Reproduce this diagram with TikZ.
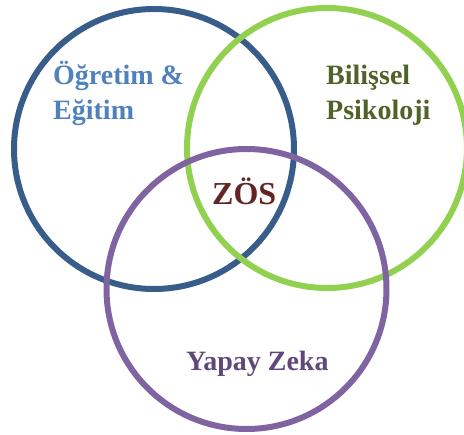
\documentclass[tikz,border=0pt]{standalone}
\usepackage{fontspec}
\setmainfont{Liberation Serif}
\definecolor{ringBlue}{HTML}{385D8A}
\definecolor{ringGreen}{HTML}{92D050}
\definecolor{ringPurple}{HTML}{8064A2}
\definecolor{txtBlue}{HTML}{4F81BD}
\definecolor{txtOlive}{HTML}{4F6228}
\definecolor{txtRed}{HTML}{632523}
\definecolor{txtPurple}{HTML}{5F497A}
\tikzset{
  ring/.style={line width=6pt},
  label/.style={inner sep=0pt, anchor=base west, font=\bfseries\fontsize{28}{35}\selectfont, align=left},
}
\begin{document}
\begin{tikzpicture}[x=1pt,y=-1pt]
\useasboundingbox (0,0) rectangle (464,435);
% the three overlapping fields
\draw[ring, ringBlue]   (154,149) circle (140pt);
\draw[ring, ringGreen]  (327,148) circle (140pt);
\draw[ring, ringPurple] (246.5,289) circle (140pt);
% field names (base anchor sits on the last line)
\node[label, text=txtBlue] (egitim) at (53,120) {Öğretim \&\\Eğitim};
\node[label, text=txtOlive] (psiko) at (326,120) {Bilişsel\\Psikoloji};
\node[label, text=txtPurple] (zeka) at (186,371) {Yapay Zeka};
\node[label, text=txtRed, font=\bfseries\fontsize{32}{38}\selectfont] (zos) at (212,205) {ZÖS};
\end{tikzpicture}
\end{document}
